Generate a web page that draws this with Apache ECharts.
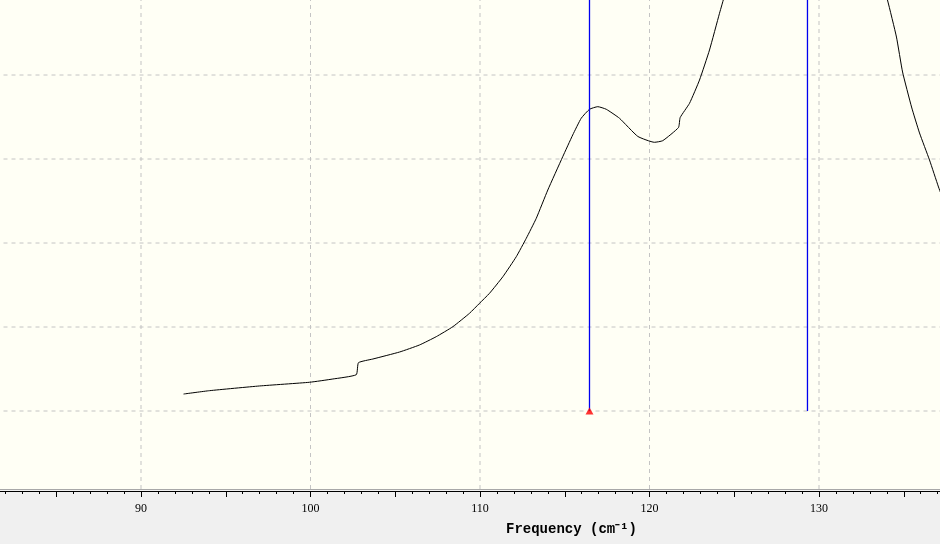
<!DOCTYPE html>
<html>
<head>
<meta charset="utf-8">
<script src="https://cdn.jsdelivr.net/npm/echarts@6/dist/echarts.min.js"></script>
<style>html,body{margin:0;padding:0;background:#f0f0f0}#c{width:940px;height:544px}</style>
</head>
<body>
<div id="c"></div>
<script>
// Spectrum trace (frequency cm^-1, intensity in gridline units)
const freq = [92.51, 94.04, 96.99, 99.94, 101.32, 102.70, 102.83, 103.68, 105.25, 106.43,
  107.42, 108.40, 109.38, 109.97, 110.56, 111.35, 112.14, 112.73, 113.32, 114.00,
  114.88, 115.47, 115.97, 116.46, 116.95, 117.45, 118.23, 119.31, 120.29, 120.78,
  121.71, 121.81, 122.36, 122.95, 123.54, 124.13, 124.43, 126.0, 129.3, 132.5,
  133.92, 134.04, 134.57, 134.93, 135.46, 135.93, 136.52, 137.05, 137.40];
const intensity = [0.202, 0.242, 0.298, 0.342, 0.381, 0.432, 0.575, 0.619, 0.702, 0.786,
  0.885, 1.004, 1.163, 1.282, 1.401, 1.599, 1.837, 2.056, 2.294, 2.631,
  3.027, 3.286, 3.485, 3.592, 3.623, 3.592, 3.485, 3.269, 3.199, 3.218,
  3.375, 3.494, 3.663, 3.940, 4.298, 4.735, 4.952, 6.5, 9.0, 6.5,
  4.952, 4.893, 4.452, 4.036, 3.619, 3.310, 2.988, 2.667, 2.476];
const cursorLines = [116.46, 129.32];
const markerPoint = [116.46, 0];
const hGrid = [0, 1, 2, 3, 4];
const vGrid = [90, 100, 110, 120, 130];
const xLabelStep = 10;
const axisTitle = 'Frequency (cm\u207B\u00B9)';

const xMin = 80, xMax = 140, yMin = -0.9286, yMax = 4.893;
const data = freq.map((f, i) => [f, intensity[i]]);
const gridStyle = {color: '#c4c4c4', type: [4, 4], width: 1};
const blue = '#0000f0';

const series = [];
hGrid.forEach(v => series.push({type: 'line', data: [[xMin, v], [xMax, v]], showSymbol: false, silent: true,
  lineStyle: gridStyle, z: 1}));
vGrid.forEach(v => series.push({type: 'line', data: [[v, yMin], [v, yMax]], showSymbol: false, silent: true,
  lineStyle: gridStyle, z: 1}));
series.push({type: 'line', data: data, showSymbol: false, smooth: 0.15, clip: true,
  color: '#000', lineStyle: {color: '#000', width: 1}, itemStyle: {color: '#000'}, z: 3});
cursorLines.forEach(x => series.push({type: 'line', data: [[x, 0], [x, yMax]], showSymbol: false, silent: true,
  color: blue, lineStyle: {color: blue, width: 1.3, opacity: 1}, itemStyle: {color: blue}, z: 4}));
series.push({type: 'scatter', data: [markerPoint], symbol: 'triangle', symbolSize: [8, 7],
  itemStyle: {color: '#ff0000'}, z: 6});

const chart = echarts.init(document.getElementById('c'), null, {renderer: 'canvas'});
chart.setOption({
  animation: false,
  backgroundColor: '#f0f0f0',
  grid: {left: -28.5, right: -48.5, top: 0, bottom: 55, show: true, backgroundColor: '#fffff5',
    borderWidth: 0, containLabel: false, outerBoundsMode: 'none'},
  xAxis: {
    type: 'value', min: xMin, max: xMax, interval: 5, offset: 2, z: 5,
    axisLine: {show: true, onZero: false, lineStyle: {color: '#000', width: 1}},
    axisTick: {show: true, length: 6, lineStyle: {color: '#000'}},
    minorTick: {show: true, splitNumber: 5, length: 3, lineStyle: {color: '#000'}},
    splitLine: {show: false},
    axisLabel: {
      color: '#000', fontSize: 12, fontFamily: 'Liberation Serif', margin: 12,
      formatter: v => (Math.round(v) % xLabelStep === 0 ? String(Math.round(v)) : '')
    }
  },
  yAxis: {type: 'value', min: yMin, max: yMax, show: false, splitLine: {show: false}},
  graphic: [
    {type: 'line', shape: {x1: 0, y1: 489.5, x2: 940, y2: 489.5}, style: {stroke: '#a8a8a8', lineWidth: 1}, z: 10},
    {type: 'text', left: 506, top: 522, style: {text: axisTitle, font: 'bold 14px "Liberation Mono"', fill: '#000'}, z: 10}
  ],
  series: series
});
</script>
</body>
</html>
